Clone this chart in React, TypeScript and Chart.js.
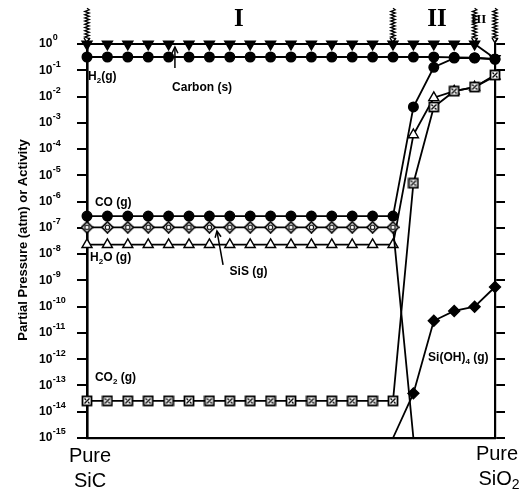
import React, { useEffect, useRef } from 'react';
import { Chart, registerables } from 'chart.js';

Chart.register(...registerables);

// composition steps: 0 = pure SiC ... 20 = pure SiO2
const steps = [0, 1, 2, 3, 4, 5, 6, 7, 8, 9, 10, 11, 12, 13, 14, 15, 16, 17, 18, 19, 20];
const decadeExponents = [0, -1, -2, -3, -4, -5, -6, -7, -8, -9, -10, -11, -12, -13, -14, -15];

const carbonS = [1, 1, 1, 1, 1, 1, 1, 1, 1, 1, 1, 1, 1, 1, 1, 1, 1, 1, 1, 1, 0.28];
const h2 = [0.32, 0.32, 0.32, 0.32, 0.32, 0.32, 0.32, 0.32, 0.32, 0.32, 0.32, 0.32, 0.32, 0.32, 0.32, 0.32, 0.32, 0.32, 0.31, 0.3, 0.27];
const co = [2.8e-7, 2.8e-7, 2.8e-7, 2.8e-7, 2.8e-7, 2.8e-7, 2.8e-7, 2.8e-7, 2.8e-7, 2.8e-7, 2.8e-7, 2.8e-7, 2.8e-7, 2.8e-7, 2.8e-7, 2.8e-7, 4e-3, 0.13, 0.29, 0.29, 0.26];
const sis = [1.05e-7, 1.05e-7, 1.05e-7, 1.05e-7, 1.05e-7, 1.05e-7, 1.05e-7, 1.05e-7, 1.05e-7, 1.05e-7, 1.05e-7, 1.05e-7, 1.05e-7, 1.05e-7, 1.05e-7, 1.05e-7, 1e-15, null, null, null, null];
const h2o = [2.3e-8, 2.3e-8, 2.3e-8, 2.3e-8, 2.3e-8, 2.3e-8, 2.3e-8, 2.3e-8, 2.3e-8, 2.3e-8, 2.3e-8, 2.3e-8, 2.3e-8, 2.3e-8, 2.3e-8, 2.3e-8, 3.5e-4, 9e-3, 0.016, 0.023, 0.06];
const co2 = [2.6e-14, 2.6e-14, 2.6e-14, 2.6e-14, 2.6e-14, 2.6e-14, 2.6e-14, 2.6e-14, 2.6e-14, 2.6e-14, 2.6e-14, 2.6e-14, 2.6e-14, 2.6e-14, 2.6e-14, 2.6e-14, 5e-6, 4e-3, 0.016, 0.023, 0.066];
const sioh4 = [null, null, null, null, null, null, null, null, null, null, null, null, null, null, null, 1e-15, 5e-14, 2.9e-11, 6.9e-11, 1e-10, 5.6e-10];

const regionBoundaries = [0, 15, 19, 20];
const regionLabels = [
  { text: 'I', x: 7.45, size: 25 },
  { text: 'II', x: 17.16, size: 25 },
  { text: 'III', x: 19.2, size: 13 },
];

const FONT = '"Liberation Sans", Arial, sans-serif';
const SERIF = '"Liberation Serif", "Times New Roman", serif';

function mk(w: number, h: number, draw: (g: CanvasRenderingContext2D) => void) {
  const c = document.createElement('canvas');
  c.width = w;
  c.height = h;
  const g = c.getContext('2d')!;
  draw(g);
  return c;
}

function toXY(arr: (number | null)[]) {
  return steps.map((s, i) => ({ x: s, y: arr[i] }));
}

type Part = string | { sub: string };

function drawRich(ctx: CanvasRenderingContext2D, parts: Part[], x: number, y: number, size: number, bold = true) {
  let cx = x;
  const w = bold ? 'bold ' : '';
  for (const p of parts) {
    if (typeof p === 'string') {
      ctx.font = `${w}${size}px ${FONT}`;
      ctx.fillText(p, cx, y);
      cx += ctx.measureText(p).width;
    } else {
      ctx.font = `${w}${Math.round(size * 0.68)}px ${FONT}`;
      ctx.fillText(p.sub, cx, y + size * 0.32);
      cx += ctx.measureText(p.sub).width;
    }
  }
  return cx - x;
}

function measureRich(ctx: CanvasRenderingContext2D, parts: Part[], size: number, bold = true) {
  let wsum = 0;
  const w = bold ? 'bold ' : '';
  for (const p of parts) {
    if (typeof p === 'string') {
      ctx.font = `${w}${size}px ${FONT}`;
      wsum += ctx.measureText(p).width;
    } else {
      ctx.font = `${w}${Math.round(size * 0.68)}px ${FONT}`;
      wsum += ctx.measureText(p.sub).width;
    }
  }
  return wsum;
}

const seriesLabels: { parts: Part[]; x: number; lg: number }[] = [
  { parts: ['H', { sub: '2' }, '(g)'], x: 0.05, lg: -1.26 },
  { parts: ['Carbon (s)'], x: 4.17, lg: -1.67 },
  { parts: ['CO (g)'], x: 0.39, lg: -6.05 },
  { parts: ['H', { sub: '2' }, 'O (g)'], x: 0.15, lg: -8.15 },
  { parts: ['SiS (g)'], x: 6.99, lg: -8.68 },
  { parts: ['CO', { sub: '2' }, ' (g)'], x: 0.39, lg: -12.71 },
  { parts: ['Si(OH)', { sub: '4' }, ' (g)'], x: 16.72, lg: -11.95 },
];

const arrows = [
  { x1: 4.31, lg1: -0.91, x2: 4.31, lg2: -0.11 },
  { x1: 6.67, lg1: -8.41, x2: 6.37, lg2: -7.12 },
];

const annotPlugin = {
  id: 'annot',
  afterDraw(chart: any) {
    const { ctx } = chart;
    const xs = chart.scales.x;
    const ys = chart.scales.y;
    const px = (v: number) => xs.getPixelForValue(v);
    const py = (lg: number) => ys.getPixelForValue(Math.pow(10, lg));
    ctx.save();
    ctx.fillStyle = '#000';
    ctx.strokeStyle = '#000';
    ctx.textBaseline = 'middle';

    // y tick labels 10^n
    const x0 = 39;
    for (const e of decadeExponents) {
      const y = ys.getPixelForValue(Math.pow(10, e));
      ctx.textAlign = 'left';
      ctx.font = `bold 12px ${FONT}`;
      ctx.fillText('10', x0, y);
      const w = ctx.measureText('10').width;
      ctx.font = `bold 9px ${FONT}`;
      ctx.fillText(e === 0 ? '0' : '-' + Math.abs(e), x0 + w + 0.5, y - 6);
    }

    // y axis title
    ctx.save();
    ctx.translate(23, 240);
    ctx.rotate(-Math.PI / 2);
    ctx.textAlign = 'center';
    ctx.font = `bold 13px ${FONT}`;
    ctx.fillText('Partial Pressure (atm) or Activity', 0, 0);
    ctx.restore();

    // x end labels
    ctx.textAlign = 'center';
    ctx.font = `20px ${FONT}`;
    const xl = px(0) + 3;
    ctx.fillText('Pure', xl, 456);
    ctx.fillText('SiC', xl, 481);
    const xr = px(20) + 2;
    ctx.fillText('Pure', xr, 454);
    const sp: Part[] = ['SiO', { sub: '2' }];
    const sw = measureRich(ctx, sp, 20, false);
    ctx.textAlign = 'left';
    drawRich(ctx, sp, xr - sw / 2 + 2, 479, 20, false);

    // series labels
    ctx.textAlign = 'left';
    for (const l of seriesLabels) {
      drawRich(ctx, l.parts, px(l.x), py(l.lg), 12);
    }

    // arrows
    ctx.lineWidth = 1.5;
    for (const a of arrows) {
      const X1 = px(a.x1), Y1 = py(a.lg1), X2 = px(a.x2), Y2 = py(a.lg2);
      ctx.beginPath();
      ctx.moveTo(X1, Y1);
      ctx.lineTo(X2, Y2);
      ctx.stroke();
      const ang = Math.atan2(Y2 - Y1, X2 - X1);
      ctx.beginPath();
      ctx.moveTo(X2 + Math.cos(ang + 2.7) * 7, Y2 + Math.sin(ang + 2.7) * 7);
      ctx.lineTo(X2, Y2);
      ctx.lineTo(X2 + Math.cos(ang - 2.7) * 7, Y2 + Math.sin(ang - 2.7) * 7);
      ctx.stroke();
    }

    // region boundaries (wavy markers)
    ctx.lineWidth = 1.3;
    const top = py(1.36);
    const bottom = py(0.08);
    for (const b of regionBoundaries) {
      const X = px(b);
      ctx.beginPath();
      let y = top;
      let k = 0;
      ctx.moveTo(X, y);
      while (y < bottom - 4) {
        y += 1.6;
        ctx.lineTo(X + (k % 2 === 0 ? 2.2 : -2.2), y);
        k++;
      }
      ctx.lineTo(X, bottom);
      ctx.stroke();
      ctx.beginPath();
      ctx.moveTo(X - 3, bottom - 4);
      ctx.lineTo(X, bottom + 1);
      ctx.lineTo(X + 3, bottom - 4);
      ctx.stroke();
    }

    // region labels
    ctx.textAlign = 'center';
    for (const r of regionLabels) {
      ctx.font = `bold ${r.size}px ${SERIF}`;
      ctx.fillText(r.text, px(r.x), r.size > 20 ? py(0.93) : py(0.92));
    }
    ctx.restore();
  },
};

export default function App() {
  const ref = useRef<HTMLCanvasElement>(null);
  useEffect(() => {
    const crossSquare = mk(12, 12, (g) => {
      g.fillStyle = '#fff';
      g.fillRect(1.5, 1.5, 9, 9);
      g.strokeStyle = '#000';
      g.lineWidth = 1.8;
      g.strokeRect(1.5, 1.5, 9, 9);
      g.lineWidth = 1.4;
      g.beginPath();
      g.moveTo(3.5, 8.5);
      g.lineTo(8.5, 3.5);
      g.moveTo(3.5, 3.5);
      g.lineTo(5, 5);
      g.moveTo(7, 7);
      g.lineTo(8.5, 8.5);
      g.stroke();
    });
    const crossDiamond = mk(13, 13, (g) => {
      g.fillStyle = '#fff';
      g.strokeStyle = '#000';
      g.lineWidth = 1.7;
      g.beginPath();
      g.moveTo(6.5, 1);
      g.lineTo(12, 6.5);
      g.lineTo(6.5, 12);
      g.lineTo(1, 6.5);
      g.closePath();
      g.fill();
      g.stroke();
      g.lineWidth = 1.1;
      g.beginPath();
      g.arc(6.5, 6.5, 2.2, 0, Math.PI * 2);
      g.stroke();
    });

    const hideEdge = (r: number) => (c: any) => (c.parsed && c.parsed.y <= 1e-15 ? 0 : r);

    const base = {
      borderColor: '#000',
      borderWidth: 1.8,
      pointBorderColor: '#000',
      pointBorderWidth: 1.4,
      clip: false as any,
      tension: 0,
    };

    const chart = new Chart(ref.current!, {
      type: 'line',
      data: {
        datasets: [
          { ...base, label: 'CO2 (g)', data: toXY(co2), pointStyle: crossSquare as any, pointRadius: 6 },
          { ...base, label: 'Si(OH)4 (g)', data: toXY(sioh4), pointStyle: 'rectRot', pointRadius: hideEdge(5.5) as any, pointBackgroundColor: '#000' },
          { ...base, label: 'SiS (g)', data: toXY(sis), pointStyle: crossDiamond as any, pointRadius: hideEdge(6) as any },
          { ...base, label: 'H2O (g)', data: toXY(h2o), pointStyle: 'triangle', pointRadius: 5.8, pointBackgroundColor: '#fff' },
          { ...base, label: 'CO (g)', data: toXY(co), pointStyle: 'circle', pointRadius: 4.8, pointBackgroundColor: '#000' },
          { ...base, label: 'H2 (g)', data: toXY(h2), pointStyle: 'circle', pointRadius: 4.8, pointBackgroundColor: '#000' },
          { ...base, label: 'Carbon (s)', data: toXY(carbonS), pointStyle: 'triangle', pointRotation: 180, pointRadius: 5.8, pointBackgroundColor: '#000' },
        ],
      },
      options: {
        animation: false,
        responsive: false,
        devicePixelRatio: 1,
        layout: { padding: { top: 44, left: 0, right: 0, bottom: 0 } },
        plugins: { legend: { display: false }, tooltip: { enabled: false }, title: { display: false } },
        scales: {
          x: {
            type: 'linear',
            min: 0,
            max: 20,
            ticks: { display: false },
            grid: { display: false },
            border: { display: true, color: '#000', width: 2.2 },
            afterFit: (s: any) => { s.height = 55; },
          },
          y: {
            type: 'logarithmic',
            position: 'left',
            min: 1e-15,
            max: 1,
            ticks: { display: false },
            afterBuildTicks: (s: any) => { s.ticks = decadeExponents.map((e) => ({ value: Math.pow(10, e) })); },
            grid: { display: true, drawOnChartArea: false, drawTicks: true, tickLength: 10, color: '#000', lineWidth: 2 },
            border: { display: true, color: '#000', width: 2.6 },
            afterFit: (s: any) => { s.width = 87; },
          },
          y2: {
            type: 'logarithmic',
            position: 'right',
            min: 1e-15,
            max: 1,
            ticks: { display: false },
            afterBuildTicks: (s: any) => { s.ticks = decadeExponents.map((e) => ({ value: Math.pow(10, e) })); },
            grid: { display: true, drawOnChartArea: false, drawTicks: true, tickLength: 10, color: '#000', lineWidth: 2 },
            border: { display: true, color: '#000', width: 2.2 },
            afterFit: (s: any) => { s.width = 29; },
          },
        },
      } as any,
      plugins: [annotPlugin],
    });
    return () => chart.destroy();
  }, []);

  return (
    <div style={{ position: 'absolute', left: 0, top: 0, width: 524, height: 493, background: '#fff' }}>
      <canvas ref={ref} width={524} height={493} style={{ width: 524, height: 493, display: 'block' }} />
    </div>
  );
}
